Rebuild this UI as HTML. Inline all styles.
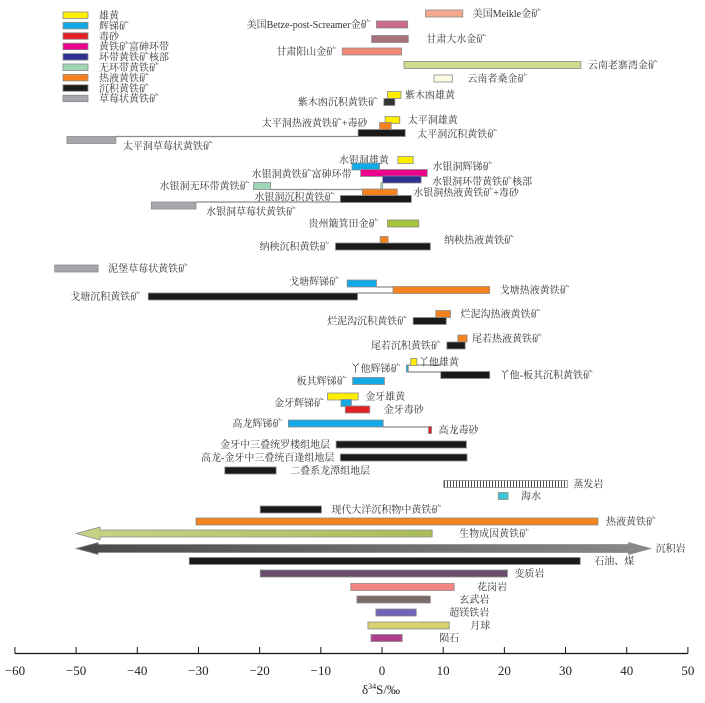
<!DOCTYPE html>
<html><head><meta charset="utf-8">
<style>
html,body{margin:0;padding:0;background:#fff;}
svg{display:block;font-family:"Liberation Serif","Noto Serif CJK SC",serif;}
.lb{font-size:10px;fill:#333;}
</style></head>
<body>
<svg id="chart" width="705" height="703" viewBox="0 0 705 703" xmlns="http://www.w3.org/2000/svg">
<defs>
<pattern id="hatch" width="3" height="8" patternUnits="userSpaceOnUse">
<rect width="3" height="8" fill="#fff"/><line x1="0.5" y1="0" x2="0.5" y2="8" stroke="#222" stroke-width="0.8"/>
</pattern>
<linearGradient id="gBio" x1="0" x2="1"><stop offset="0" stop-color="#c6d487"/><stop offset="1" stop-color="#a9bc5a"/></linearGradient>
<linearGradient id="gSed" x1="0" x2="1"><stop offset="0" stop-color="#4a4a4a"/><stop offset="1" stop-color="#8a8a8a"/></linearGradient>
</defs>
<g id="legend"></g>
<g id="marks"></g>
<g id="axis"></g>
</svg>
<script>
// ---- data ----
const names = ["美国Meikle金矿","美国Betze-post-Screamer金矿","甘肃大水金矿","甘肃阳山金矿","云南老寨湾金矿","云南者桑金矿",
"紫木凼雄黄","紫木凼沉积黄铁矿","太平洞雄黄","太平洞热液黄铁矿+毒砂","太平洞沉积黄铁矿","太平洞草莓状黄铁矿",
"水银洞雄黄","水银洞辉锑矿","水银洞黄铁矿富砷环带","水银洞环带黄铁矿核部","水银洞无环带黄铁矿","水银洞热液黄铁矿+毒砂","水银洞沉积黄铁矿","水银洞草莓状黄铁矿",
"贵州簸箕田金矿","纳秧热液黄铁矿","纳秧沉积黄铁矿","泥堡草莓状黄铁矿",
"戈塘辉锑矿","戈塘热液黄铁矿","戈塘沉积黄铁矿","烂泥沟热液黄铁矿","烂泥沟沉积黄铁矿","尾若热液黄铁矿","尾若沉积黄铁矿",
"丫他雄黄","丫他辉锑矿","丫他-板其沉积黄铁矿","板其辉锑矿","金牙雄黄","金牙辉锑矿","金牙毒砂","高龙辉锑矿","高龙毒砂",
"金牙中三叠统罗楼组地层","高龙-金牙中三叠统百逢组地层","二叠系龙潭组地层","蒸发岩","海水","现代大洋沉积物中黄铁矿","热液黄铁矿",
"石油、煤","变质岩","花岗岩","玄武岩","超镁铁岩","月球","陨石"];
const lows  = [7.1,-0.9,-1.7,-6.5,3.6,8.5, 0.9,0.3,0.5,-0.4,-3.9,-51.5, 2.6,-4.9,-3.5,0.1,-21,-3.2,-6.8,-37.7,
 0.9,-0.3,-7.6,-53.5, -5.7,1.8,-38.2,8.8,5.1,12.4,10.6, 4.7,4.0,9.6,-4.8,-8.9,-6.7,-6.0,-15.3,7.6,
 -7.5,-6.8,-25.7,10.1,19.0,-19.9,-30.4, -31.5,-19.9,-5.1,-4.1,-1.0,-2.3,-1.8];
const highs = [13.2,4.2,4.3,3.2,32.5,11.5, 3.1,2.1,2.9,1.5,3.8,-43.5, 5.1,-0.4,7.4,6.4,-18.2,2.5,4.8,-30.4,
 6.0,1.0,7.9,-46.4, -0.9,17.6,-4.0,11.2,10.5,13.9,13.6, 5.7,4.3,17.6,0.4,-3.9,-5.0,-2.0,0.2,8.1,
 13.8,13.9,-17.3,30.3,20.6,-9.9,35.3, 32.4,20.5,11.8,7.9,5.6,11.0,3.3];
const colors = ["#f4a88e","#c96a86","#a8727a","#f08a74","#cfdc8c","#fdfbe2",
"#ffee00","#333333","#ffee00","#f5821f","#1a1a1a","#a6a6ab",
"#ffee00","#13a8e6","#ec008c","#2e3192","#9fd5b4","#f5821f","#1a1a1a","#a6a6ab",
"#a6c43a","#f5821f","#1a1a1a","#a6a6ab",
"#13a8e6","#f5821f","#1a1a1a","#f5821f","#1a1a1a","#f5821f","#1a1a1a",
"#ffee00","#13a8e6","#1a1a1a","#13a8e6","#ffee00","#13a8e6","#e31e24","#13a8e6","#e31e24",
"#1a1a1a","#1a1a1a","#1a1a1a","url(#hatch)","#3ec6d2","#1a1a1a","#f5821f",
"#1a1a1a","#6b4c6d","#f28482","#7d6b69","#6f63b8","#d7d272","#b03d89"];
const sides = ["r","l","r","l","r","r","r","l","r","l","r","r","l","r","l","r","l","r","l","r",
"l","r","l","r","l","r","l","r","l","r","l","r","l","r","l","r","l","r","l","r",
"l","l","r","r","r","r","r","r","r","r","r","r","r","r"];
// layout (row centres in px and label nudges) — not data
const rowY = [13.5,24.5,39,51.5,65,78.5, 95,102,120,126,133,140, 160,166.5,173,179.5,186,192.5,199,205.5,
 223.5,240,246.5,268.5, 283.5,290,296.5,314,321,338.5,345.5, 362,368.5,375,381,396.5,403,409.5,423.5,430,
 444.5,457.5,470.5,484,496,509.5,521.5, 561,573.5,587,599.5,612.5,625.5,638];
const ldx = [0,0,8,0,-3,5, -6,0,-2,-6,2,-3, -3,43,-3,1,2,6,0,0, -3,46,0,0, -2,0,-2,0,0,-5,0,-8,0,0,0,-3,-11,4,0,-3, 0,0,4,-4,3,0,-2, 4,-3,13,19,23,11,27];
const ldy = [0,0,0,0,0,0, 0,0,0,-3,1,6, 0,0,1,2,0,0,-2,6, 0,0,0,0, -2,0,0,0,0,0,0,0,0,0,0,0,0,0,0,0, 0,0,0,0,0,0,0, 0,0,0,0,0,0,0,0];

const arrowNames = ["生物成因黄铁矿","沉积岩"];
const arrowLows  = [-50,-50];
const arrowHighs = [8.2,43.9];

const legendNames  = ["雄黄","辉锑矿","毒砂","黄铁矿富砷环带","环带黄铁矿核部","无环带黄铁矿","热液黄铁矿","沉积黄铁矿","草莓状黄铁矿"];
const legendColors = ["#ffee00","#13a8e6","#e31e24","#ec008c","#2e3192","#9fd5b4","#f5821f","#1a1a1a","#a6a6ab"];

const tickValues = [-60,-50,-40,-30,-20,-10,0,10,20,30,40,50];
const tickLabels = ["−60","−50","−40","−30","−20","−10","0","10","20","30","40","50"];

// connectors: [fromIndex(use high), toIndex(use low), y-edge of from-row: 1 bottom, -1 top]
const connectors = [[11,10,-1],[16,17,1],[19,18,-1],[24,25,1],[26,25,-1],[32,33,-1],[32,33,1],[38,39,1]];

// ---- scales ----
const X0 = 382, K = 6.118, H = 7;
function x(v){ return X0 + v*K; }
const NS = "http://www.w3.org/2000/svg";
function mk(tag, attrs, parent){ const e=document.createElementNS(NS,tag); for(const k in attrs) e.setAttribute(k,attrs[k]); parent.appendChild(e); return e; }
const marks = document.getElementById('marks');
const legend = document.getElementById('legend');
const axis = document.getElementById('axis');

// connectors first
connectors.forEach(c=>{
  const a=c[0], b=c[1];
  const yy = rowY[a] + c[2]*H/2;
  const l = mk('line',{x1:x(highs[a]),x2:x(lows[b]),y1:yy,y2:yy,stroke:'#8a8a8a','stroke-width':1.2},marks);
  
  
});
// small zonation tick in 水银洞
{ const t = mk('rect',{x:x(highs[17])-16.5,y:rowY[16]-3.5,width:2,height:7,fill:'#9fd5b4',stroke:'#888','stroke-width':0.5},marks);
  
   }

names.forEach((n,i)=>{
  const x1=x(lows[i]), x2=x(highs[i]), cy=rowY[i];
  const r = mk('rect',{x:x1,y:cy-H/2,width:Math.max(1.5,x2-x1),height:H,fill:colors[i],stroke:'#8a8a8a','stroke-width':0.8},marks);
  
  
  const t = mk('text',{class:'lb',y:cy+3.5+ldy[i]},marks);
  if(sides[i]==='r'){ t.setAttribute('x',x2+10+ldx[i]); t.setAttribute('text-anchor','start'); }
  else { t.setAttribute('x',x1-6+ldx[i]); t.setAttribute('text-anchor','end'); }
  t.textContent=n;
  
  
});

// arrows
{ // biogenic: left arrow
  const a=x(arrowLows[0]), b=x(arrowHighs[0]), cy=533.5, hl=24;
  const p = mk('polygon',{points:`${a},${cy} ${a+hl},${cy-6.5} ${a+hl},${cy-3.5} ${b},${cy-3.5} ${b},${cy+3.5} ${a+hl},${cy+3.5} ${a+hl},${cy+6.5}`,fill:'url(#gBio)',stroke:'#8a8a8a','stroke-width':0.8},marks);
  
  
  const t = mk('text',{class:'lb',x:b+27,y:cy+3.5},marks); t.textContent=arrowNames[0];
  
  
}
{ // sedimentary: double arrow
  const a=x(arrowLows[1]), b=x(arrowHighs[1]), cy=548.5, hl=22;
  const p = mk('polygon',{points:`${a},${cy} ${a+hl},${cy-6} ${a+hl},${cy-4} ${b-hl},${cy-4} ${b-hl},${cy-6} ${b},${cy} ${b-hl},${cy+6} ${b-hl},${cy+4} ${a+hl},${cy+4} ${a+hl},${cy+6}`,fill:'url(#gSed)',stroke:'#8a8a8a','stroke-width':0.8},marks);
  
  
  const t = mk('text',{class:'lb',x:b+5,y:cy+3.5},marks); t.textContent=arrowNames[1];
  
  
}

// legend
legendNames.forEach((n,i)=>{
  const yy = 12 + i*10.4;
  const r = mk('rect',{x:63,y:yy,width:25,height:6.5,fill:legendColors[i],stroke:'#8a8a8a','stroke-width':0.8},legend);
  
  
  const t = mk('text',{class:'lb',x:99,y:yy+7},legend); t.textContent=n;
  
  
});

// axis
{ const l = mk('line',{x1:x(-60),x2:x(50),y1:653.5,y2:653.5,stroke:'#111','stroke-width':1.3},axis);
  
   }
tickValues.forEach((v,i)=>{
  const tk = mk('line',{x1:x(v),x2:x(v),y1:647,y2:653.5,stroke:'#111','stroke-width':1},axis);
  
  
  const t = mk('text',{x:x(v),y:675,'text-anchor':'middle','font-size':'13',fill:'#222'},axis);
  t.textContent=tickLabels[i];
  
  
});
{ const t = mk('text',{x:381,y:694,'text-anchor':'middle','font-size':'13',fill:'#222'},axis);
  t.innerHTML='δ<tspan font-size="8" dy="-5">34</tspan><tspan dy="5">S/‰</tspan>';
  
   }
</script>
</body></html>
